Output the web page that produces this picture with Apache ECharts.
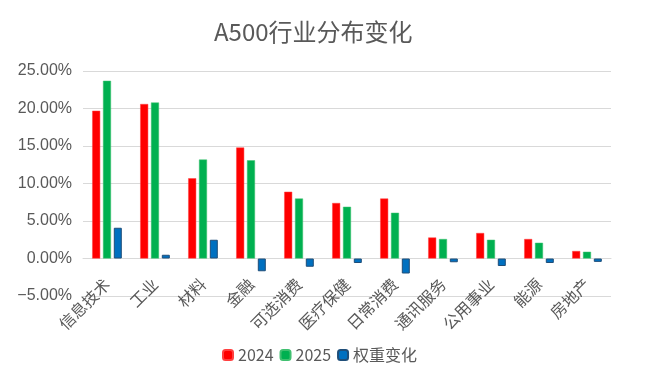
<!DOCTYPE html>
<html><head><meta charset="utf-8">
<script src="https://cdn.jsdelivr.net/npm/echarts@6/dist/echarts.min.js"></script>
<style>html,body{margin:0;padding:0;background:#fff}#c{width:652px;height:390px}</style>
</head><body><div id="c"></div>
<script>
const categories = ['信息技术','工业','材料','金融','可选消费','医疗保健','日常消费','通讯服务','公用事业','能源','房地产'];
const s2024 = [19.7, 20.6, 10.7, 14.8, 8.9, 7.4, 8.0, 2.8, 3.4, 2.6, 1.0];
const s2025 = [23.7, 20.8, 13.2, 13.1, 8.0, 6.9, 6.1, 2.6, 2.5, 2.1, 0.9];
const sChange = [4.1, 0.5, 2.5, -1.7, -1.1, -0.6, -2.0, -0.5, -1.0, -0.6, -0.45];
const yTicks = [-5, 0, 5, 10, 15, 20, 25];

const chart = echarts.init(document.getElementById('c'));
const font = '"Noto Sans CJK SC", "Liberation Sans", sans-serif';
chart.setOption({
  animation: false,
  textStyle: { fontFamily: font },
  title: { text: 'A500行业分布变化', left: 209, top: 15,
    textStyle: { fontSize: 24, fontWeight: 'normal', color: '#595959', fontFamily: font } },
  legend: { bottom: 22, left: 217, itemWidth: 10, itemHeight: 10, itemGap: 6,
    textStyle: { fontSize: 16, color: '#595959', fontFamily: font },
    data: ['2024', '2025', '权重变化'] },
  grid: { left: 83, right: 41, top: 71, bottom: 94 },
  xAxis: { type: 'category', data: categories, offset: -37.5,
    axisLine: { onZero: false, lineStyle: { color: '#D9D9D9' } }, axisTick: { show: false },
    axisLabel: { rotate: 45, interval: 0, fontSize: 16, color: '#595959', margin: 23, fontFamily: font } },
  yAxis: { type: 'value', min: yTicks[0], max: yTicks[yTicks.length-1], interval: 5,
    axisLine: { show: false }, axisTick: { show: false },
    splitLine: { lineStyle: { color: '#D9D9D9' } },
    axisLabel: { fontSize: 16, color: '#595959', margin: 11, fontFamily: '"Liberation Sans", sans-serif',
      formatter: v => (v < 0 ? '−' + Math.abs(v).toFixed(2) : v.toFixed(2)) + '%' } },
  series: [
    { name: '2024', type: 'bar', data: s2024, barWidth: 8, barGap: '35%',
      itemStyle: { color: '#FF0000', borderColor: '#FF4040', borderWidth: 0.5 } },
    { name: '2025', type: 'bar', data: s2025, barWidth: 8, barGap: '35%',
      itemStyle: { color: '#00B050', borderColor: '#40C070', borderWidth: 0.5 } },
    { name: '权重变化', type: 'bar', data: sChange, barWidth: 8, barGap: '35%',
      itemStyle: { color: '#0070C0', borderColor: '#1F4E79', borderWidth: 1 } }
  ]
});
</script></body></html>
